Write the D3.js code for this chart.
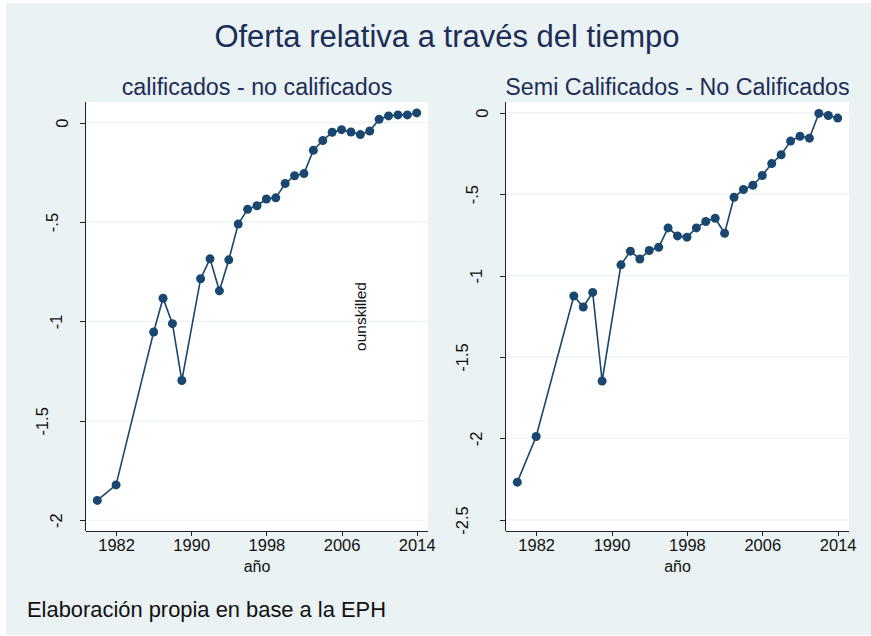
<!DOCTYPE html>
<html lang="es">
<head>
<meta charset="UTF-8">
<title>Oferta relativa a través del tiempo</title>
<style>
  body { margin: 0; background: #ffffff; }
  svg { display: block; font-family: "Liberation Sans", Arial, sans-serif; }
  .grid line { stroke: #eaf2f3; stroke-width: 1.2px; }
  .axis path, .axis line { stroke: #222; stroke-width: 1px; shape-rendering: crispEdges; }
  .axis text { fill: #111; font-size: 16.5px; font-family: "Liberation Sans", Arial, sans-serif; }
  .serie { fill: none; stroke: #1a476f; stroke-width: 1.6px; }
  .punto { fill: #1a476f; }
</style>
</head>
<body>
<div id="chart"></div>
<script src="https://d3js.org/d3.v7.min.js"></script>
<script>
// años de la EPH (sin 1981, 1983-85 ni 1990)
const anios = [1980, 1982, 1986, 1987, 1988, 1989, 1991, 1992, 1993, 1994,
               1995, 1996, 1997, 1998, 1999, 2000, 2001, 2002, 2003, 2004,
               2005, 2006, 2007, 2008, 2009, 2010, 2011, 2012, 2013, 2014];

// calificados - no calificados
const califNoCalif = [-1.900, -1.822, -1.053, -0.883, -1.011, -1.297, -0.785, -0.685, -0.846, -0.690,
                      -0.510, -0.436, -0.418, -0.384, -0.378, -0.306, -0.267, -0.256, -0.139, -0.090,
                      -0.048, -0.035, -0.047, -0.060, -0.042, 0.017, 0.034, 0.039, 0.039, 0.049];

// semi calificados - no calificados
const semiNoCalif = [-2.268, -1.988, -1.125, -1.193, -1.103, -1.647, -0.934, -0.850, -0.898, -0.846,
                     -0.826, -0.707, -0.756, -0.764, -0.707, -0.668, -0.648, -0.740, -0.519, -0.471,
                     -0.445, -0.385, -0.312, -0.258, -0.174, -0.144, -0.156, -0.004, -0.017, -0.033];

const xTicks = [1982, 1990, 1998, 2006, 2014];
const yTicksIzq = [0, -0.5, -1, -1.5, -2];
const yTicksDer = [0, -0.5, -1, -1.5, -2, -2.5];

const width = 871, height = 636;

const svg = d3.select("#chart").append("svg")
    .attr("width", width)
    .attr("height", height);

// fondo de la región del gráfico
svg.append("rect")
    .attr("x", 6).attr("y", 3)
    .attr("width", width - 6).attr("height", height - 4)
    .attr("fill", "#eaf2f3");

svg.append("text")
    .attr("x", 447).attr("y", 47)
    .attr("text-anchor", "middle")
    .attr("font-size", 31)
    .attr("fill", "#1c2d57")
    .text("Oferta relativa a través del tiempo");

const fmt = d => d === 0 ? "0" : String(d).replace("0.", ".");

function panel(box, titulo, valores, yDom, yTicks) {
    const x = d3.scaleLinear().domain([1978.8, 2015.2]).range([box.x0, box.x1]);
    const y = d3.scaleLinear().domain(yDom).range([box.y1, box.y0]);

    svg.append("rect")
        .attr("x", box.x0).attr("y", box.y0)
        .attr("width", box.x1 - box.x0).attr("height", box.y1 - box.y0)
        .attr("fill", "#ffffff");

    svg.append("g").attr("class", "grid")
        .selectAll("line").data(yTicks).join("line")
        .attr("x1", box.x0).attr("x2", box.x1)
        .attr("y1", d => y(d)).attr("y2", d => y(d));

    svg.append("text")
        .attr("x", (box.x0 + box.x1) / 2).attr("y", 95)
        .attr("text-anchor", "middle")
        .attr("font-size", 23.3)
        .attr("fill", "#1c2d57")
        .text(titulo);

    // eje x
    const gx = svg.append("g").attr("class", "axis")
        .attr("transform", `translate(0,${box.y1})`)
        .call(d3.axisBottom(x).tickValues(xTicks).tickFormat(d3.format("d"))
            .tickSize(5).tickSizeOuter(0).tickPadding(3));
    gx.select(".domain").attr("d", `M${box.x0},0.5H${box.x1}`);

    svg.append("text")
        .attr("x", (box.x0 + box.x1) / 2).attr("y", 572)
        .attr("text-anchor", "middle")
        .attr("font-size", 16)
        .attr("fill", "#111")
        .text("año");

    // eje y con etiquetas verticales
    const gy = svg.append("g").attr("class", "axis")
        .attr("transform", `translate(${box.x0},0)`)
        .call(d3.axisLeft(y).tickValues(yTicks).tickFormat(fmt)
            .tickSize(6).tickSizeOuter(0));
    gy.select(".domain").attr("d", `M-0.5,${box.y0}V${box.y1}`);
    gy.selectAll(".tick text")
        .attr("text-anchor", "middle")
        .attr("dy", "0.35em")
        .each(function () {
            const w = this.getComputedTextLength();
            d3.select(this)
                .attr("x", null)
                .attr("transform", `translate(${-(15 + w)},0) rotate(-90)`);
        });

    const linea = d3.line()
        .x((d, i) => x(anios[i]))
        .y(d => y(d));

    svg.append("path")
        .datum(valores)
        .attr("class", "serie")
        .attr("d", linea);

    svg.append("g")
        .selectAll("circle").data(valores).join("circle")
        .attr("class", "punto")
        .attr("cx", (d, i) => x(anios[i]))
        .attr("cy", d => y(d))
        .attr("r", 4.5);

    return { x, y };
}

const izq = panel({ x0: 86, x1: 428, y0: 102, y1: 531 },
    "calificados - no calificados", califNoCalif, [-2.054, 0.104], yTicksIzq);

panel({ x0: 506, x1: 849, y0: 102, y1: 531 },
    "Semi Calificados - No Calificados", semiNoCalif, [-2.568, 0.066], yTicksDer);

// etiqueta suelta dentro del panel izquierdo
svg.append("text")
    .attr("transform", `translate(${izq.x(2008)},${izq.y(-0.975)}) rotate(-90)`)
    .attr("text-anchor", "middle")
    .attr("dy", "0.35em")
    .attr("font-size", 15.5)
    .attr("fill", "#111")
    .text("ounskilled");

svg.append("text")
    .attr("x", 27).attr("y", 617)
    .attr("font-size", 21.9)
    .attr("fill", "#111")
    .text("Elaboración propia en base a la EPH");
</script>
</body>
</html>
